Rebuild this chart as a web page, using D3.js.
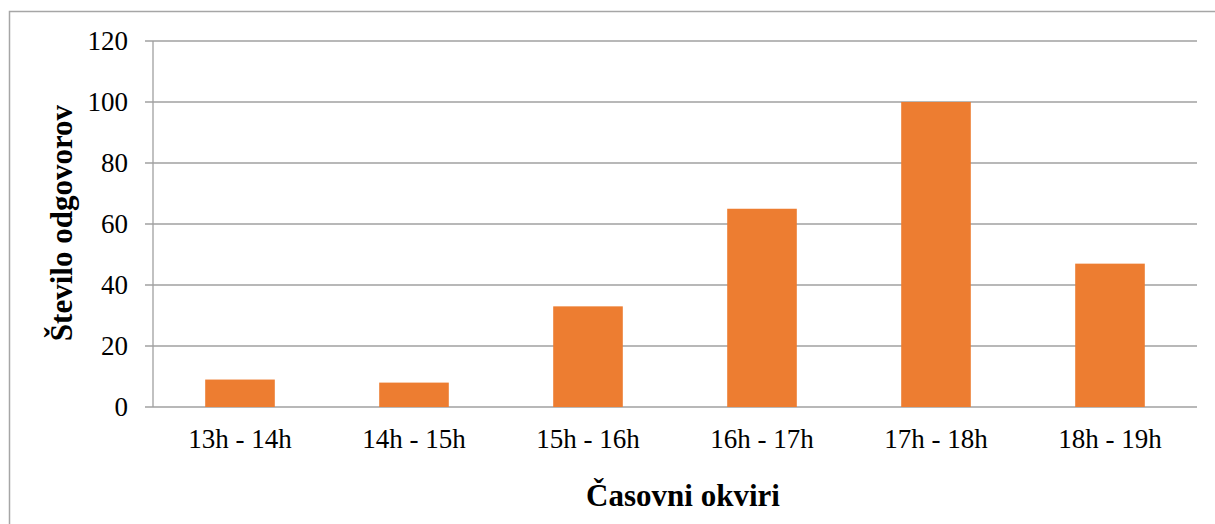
<!DOCTYPE html>
<html>
<head>
<meta charset="utf-8">
<script src="https://cdn.jsdelivr.net/npm/d3@7"></script>
<style>
  body { margin: 0; background: #fff; }
</style>
</head>
<body>
<div id="chart"></div>
<script>
const width = 1215;
const height = 524;

const categories = ["13h - 14h", "14h - 15h", "15h - 16h", "16h - 17h", "17h - 18h", "18h - 19h"];
const counts = [9, 8, 33, 65, 100, 47];
const yTicks = [0, 20, 40, 60, 80, 100, 120];

const margin = { top: 41, right: 18, bottom: 117, left: 153 };
const font = "'Liberation Serif', 'Times New Roman', Times, 'DejaVu Serif', serif";

const svg = d3.select("#chart")
  .append("svg")
  .attr("width", width)
  .attr("height", height)
  .style("display", "block");

// outer chart frame
svg.append("rect")
  .attr("x", 9.5)
  .attr("y", 11.5)
  .attr("width", width + 20)
  .attr("height", height + 20)
  .attr("fill", "none")
  .attr("stroke", "#a6a6a6")
  .attr("stroke-width", 1.5);

const x = d3.scaleBand()
  .domain(categories)
  .range([margin.left, width - margin.right])
  .paddingInner(0.6)
  .paddingOuter(0.3);

const y = d3.scaleLinear()
  .domain([0, 120])
  .range([height - margin.bottom, margin.top]);

// gridlines
svg.append("g")
  .selectAll("line")
  .data(yTicks)
  .enter()
  .append("line")
  .attr("x1", margin.left - 8)
  .attr("x2", width - margin.right)
  .attr("y1", d => y(d))
  .attr("y2", d => y(d))
  .attr("stroke", "#a0a0a0")
  .attr("stroke-width", 1.3);

// y axis line
svg.append("line")
  .attr("x1", margin.left)
  .attr("x2", margin.left)
  .attr("y1", y(120))
  .attr("y2", y(0))
  .attr("stroke", "#a0a0a0")
  .attr("stroke-width", 1.3);

// bars
svg.append("g")
  .selectAll("rect")
  .data(counts)
  .enter()
  .append("rect")
  .attr("x", (d, i) => x(categories[i]))
  .attr("y", d => y(d))
  .attr("width", x.bandwidth())
  .attr("height", d => y(0) - y(d))
  .attr("fill", "#ed7d31");

// y tick labels
svg.append("g")
  .selectAll("text")
  .data(yTicks)
  .enter()
  .append("text")
  .attr("x", 128)
  .attr("y", d => y(d))
  .attr("dy", "0.35em")
  .attr("text-anchor", "end")
  .attr("font-family", font)
  .attr("font-size", 27)
  .text(d => d);

// x tick labels
svg.append("g")
  .selectAll("text")
  .data(categories)
  .enter()
  .append("text")
  .attr("x", d => x(d) + x.bandwidth() / 2)
  .attr("y", 448)
  .attr("text-anchor", "middle")
  .attr("font-family", font)
  .attr("font-size", 27)
  .text(d => d);

// axis titles
svg.append("text")
  .attr("x", 683)
  .attr("y", 506)
  .attr("text-anchor", "middle")
  .attr("font-family", font)
  .attr("font-size", 31)
  .attr("font-weight", "bold")
  .text("Časovni okviri");

svg.append("text")
  .attr("transform", "translate(72, 223) rotate(-90)")
  .attr("text-anchor", "middle")
  .attr("font-family", font)
  .attr("font-size", 31)
  .attr("font-weight", "bold")
  .text("Število odgovorov");
</script>
</body>
</html>
